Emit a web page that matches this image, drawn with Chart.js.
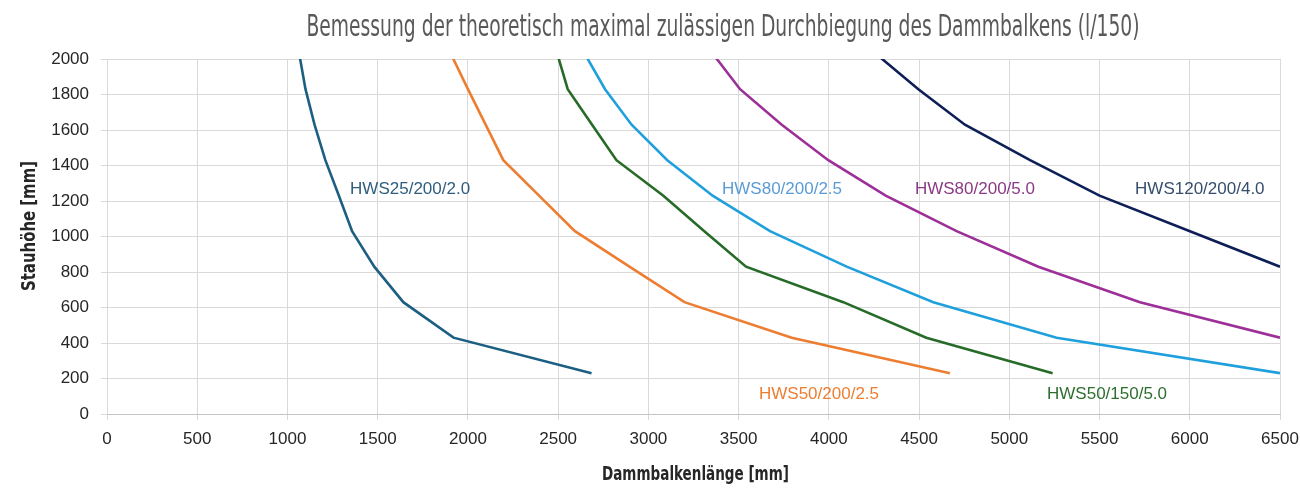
<!DOCTYPE html>
<html>
<head>
<meta charset="utf-8">
<script src="https://cdn.jsdelivr.net/npm/chart.js@4.4.1/dist/chart.umd.min.js"></script>
<style>
  html, body { margin: 0; padding: 0; background: #fff; }
  #wrap { width: 1300px; height: 488px; }
</style>
</head>
<body>
<div id="wrap"><canvas id="chart" width="1300" height="488"></canvas></div>
<script>
// Stauhöhe levels (mm) shared by all curves
const stauhoehe = [230, 430, 630, 830, 1030, 1230, 1430, 1630, 1830, 2030];

// Dammbalkenlänge (mm) per profile at each Stauhöhe level
const hws25_200_20 = [2685, 1920, 1642, 1481, 1358, 1285, 1210, 1150, 1100, 1065];
const hws50_200_25 = [4671, 3794, 3200, 2895, 2593, 2394, 2196, 2098, 2000, 1905];
const hws50_150_50 = [5240, 4540, 4080, 3541, 3310, 3083, 2823, 2688, 2553, 2495];
const hws80_200_25 = [6500, 5262, 4579, 4099, 3674, 3356, 3105, 2907, 2760, 2647];
const hws80_200_50 = [null, 6500, 5724, 5161, 4708, 4315, 3997, 3739, 3508, 3357];
const hws120_200_40 = [null, null, null, 6500, 6001, 5500, 5115, 4754, 4496, 4260];

const seriesNames = ['HWS25/200/2.0', 'HWS50/200/2.5', 'HWS50/150/5.0', 'HWS80/200/2.5', 'HWS80/200/5.0', 'HWS120/200/4.0'];
const seriesValues = [hws25_200_20, hws50_200_25, hws50_150_50, hws80_200_25, hws80_200_50, hws120_200_40];
const lineColors = ['#1c5f82', '#ed7d31', '#276b29', '#1fa0dc', '#9c2f98', '#0e1f57'];
const labelColors = ['#2f5e7f', '#ed7d31', '#2e6f30', '#5b9bd5', '#8b3a83', '#364d6c'];

// where each curve name sits, in axis units (Länge, Stauhöhe)
const labelX = [1347, 3613, 5209, 3408, 4477, 5697];
const labelY = [1268, 110, 110, 1268, 1268, 1268];

const xTicks = { min: 0, max: 6500, step: 500 };
const yTicks = { min: 0, max: 2000, step: 200 };

const chartTitle = 'Bemessung der theoretisch maximal zulässigen Durchbiegung des Dammbalkens (l/150)';
const xTitle = 'Dammbalkenlänge [mm]';
const yTitle = 'Stauhöhe [mm]';

const narrow = '"DejaVu Sans Condensed", "DejaVu Sans", sans-serif';
const regular = '"Liberation Sans", Arial, sans-serif';

const datasets = seriesValues.map((values, i) => ({
  label: seriesNames[i],
  data: values
    .map((x, k) => ({ x, y: stauhoehe[k] }))
    .filter((p) => p.x !== null),
  borderColor: lineColors[i],
  backgroundColor: lineColors[i],
  borderWidth: 2.6,
  pointRadius: 0,
  tension: 0,
  clip: 0
}));

// draws text squeezed to a given width (the original uses a condensed face)
function squeezedText(ctx, text, x, y, width, rotate) {
  const w = ctx.measureText(text).width;
  ctx.save();
  ctx.translate(x, y);
  if (rotate) ctx.rotate(-Math.PI / 2);
  ctx.scale(Math.min(1, width / w), 1);
  ctx.fillText(text, 0, 0);
  ctx.restore();
}

const curveLabels = {
  id: 'curveLabels',
  afterDatasetsDraw(chart) {
    const { ctx, scales } = chart;
    ctx.save();
    ctx.font = '17px ' + regular;
    ctx.textAlign = 'left';
    ctx.textBaseline = 'middle';
    seriesNames.forEach((name, i) => {
      ctx.fillStyle = labelColors[i];
      ctx.fillText(name, scales.x.getPixelForValue(labelX[i]), scales.y.getPixelForValue(labelY[i]));
    });
    ctx.restore();
  }
};

const titlesPlugin = {
  id: 'titlesText',
  afterDraw(chart) {
    const { ctx, chartArea } = chart;
    ctx.save();
    ctx.textAlign = 'center';
    ctx.textBaseline = 'middle';

    ctx.font = '300 30px ' + narrow;
    ctx.fillStyle = '#595959';
    squeezedText(ctx, chartTitle, 723, 28, 833, false);

    ctx.font = 'bold 20px ' + narrow;
    ctx.fillStyle = '#262626';
    squeezedText(ctx, xTitle, (chartArea.left + chartArea.right) / 2 + 2, 475, 187, false);
    squeezedText(ctx, yTitle, 30, 226, 130, true);
    ctx.restore();
  }
};

const plainNumber = (value) => String(value);

new Chart(document.getElementById('chart'), {
  type: 'line',
  data: { datasets },
  plugins: [curveLabels, titlesPlugin],
  options: {
    responsive: false,
    animation: false,
    layout: { padding: { top: 59, right: 20, left: 0, bottom: 0 } },
    plugins: {
      legend: { display: false },
      title: { display: false },
      tooltip: { enabled: false }
    },
    scales: {
      x: {
        type: 'linear',
        min: xTicks.min,
        max: xTicks.max,
        ticks: {
          stepSize: xTicks.step,
          color: '#262626',
          font: { family: regular, size: 17 },
          padding: 9,
          maxRotation: 0,
          callback: plainNumber
        },
        grid: { color: '#d9d9d9', lineWidth: 1, tickLength: 6 },
        border: { color: '#c4c4c4' },
        afterFit(scale) {
          scale.height = 74;
          scale.paddingLeft = 0;
          scale.paddingRight = 0;
        }
      },
      y: {
        min: yTicks.min,
        max: yTicks.max,
        ticks: {
          stepSize: yTicks.step,
          color: '#262626',
          font: { family: regular, size: 17 },
          padding: 12,
          callback: plainNumber
        },
        grid: { color: '#d9d9d9', lineWidth: 1, tickLength: 6 },
        border: { color: '#d9d9d9' },
        afterFit(scale) { scale.width = 107; }
      }
    }
  }
});
</script>
</body>
</html>
